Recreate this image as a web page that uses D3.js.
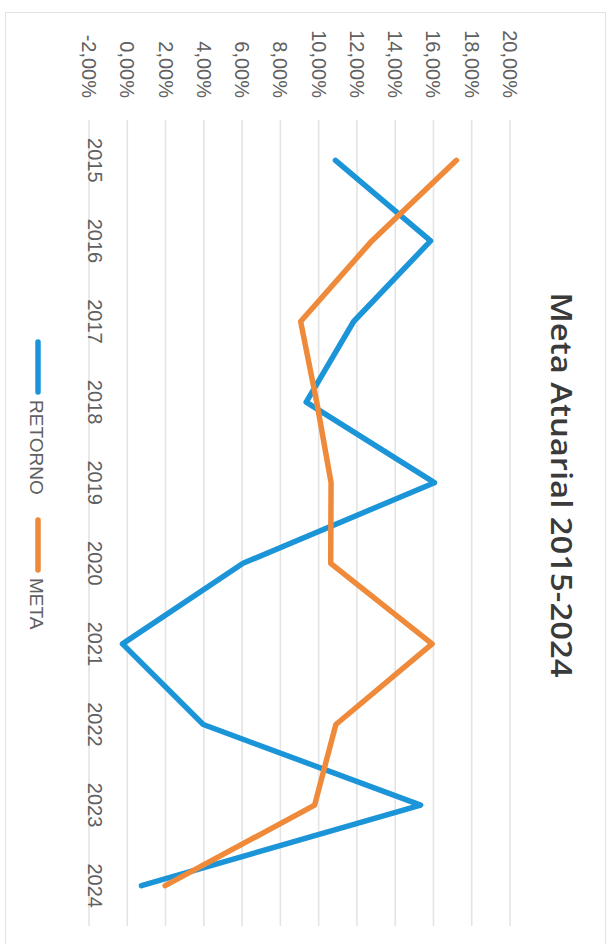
<!DOCTYPE html>
<html>
<head>
<meta charset="utf-8">
<script src="https://cdn.jsdelivr.net/npm/d3@7"></script>
<style>
  html, body { margin: 0; padding: 0; background: #fff; }
  svg { display: block; }
</style>
</head>
<body>
<script>
// ---- data ----
const years = ["2015","2016","2017","2018","2019","2020","2021","2022","2023","2024"];
const retorno = [10.88, 15.85, 11.83, 9.35, 16.05, 6.05, -0.25, 3.97, 15.33, 0.74];
const meta    = [17.2, 12.78, 9.06, 9.9, 10.65, 10.63, 15.93, 10.9, 9.79, 1.98];
const valueTicks = [-2, 0, 2, 4, 6, 8, 10, 12, 14, 16, 18, 20];
const seriesNames = ["RETORNO", "META"];
const seriesColors = ["#1b95d8", "#ef8a3a"];
const title = "Meta Atuarial 2015-2024";

const W = 613, H = 944;
const svg = d3.select("body").append("svg").attr("width", W).attr("height", H);
svg.append("rect").attr("width", W).attr("height", H).attr("fill", "#fff");
// outer frame
svg.append("rect").attr("x", 5.5).attr("y", 12.5).attr("width", 600).attr("height", 940)
  .attr("fill", "none").attr("stroke", "#e2e2e2").attr("stroke-width", 1);

// chart drawn in unrotated frame (width = H, height = W), then rotated 90° clockwise
const g = svg.append("g").attr("transform", `translate(${W},0) rotate(90)`);

const x = d3.scalePoint().domain(years).range([120, 926]).padding(0.5);
const y = d3.scaleLinear().domain([-2, 20]).range([524, 103]);

const font = "'Liberation Sans', Arial, sans-serif";
const fmt = v => (v < 0 ? "-" : "") + Math.abs(v).toFixed(2).replace(".", ",") + "%";

// gridlines
g.append("g").selectAll("line").data(valueTicks).join("line")
  .attr("x1", 120).attr("x2", 926)
  .attr("y1", d => y(d)).attr("y2", d => y(d))
  .attr("stroke", "#e4e4e4").attr("stroke-width", 1.6);

// value axis labels
g.append("g").selectAll("text").data(valueTicks).join("text")
  .attr("x", 98).attr("y", d => y(d))
  .attr("text-anchor", "end").attr("dominant-baseline", "central")
  .attr("font-family", font).attr("font-size", 20).attr("fill", "#606060")
  .text(fmt);

// category labels
g.append("g").selectAll("text").data(years).join("text")
  .attr("x", d => x(d)).attr("y", 525)
  .attr("text-anchor", "middle")
  .attr("font-family", font).attr("font-size", 20).attr("fill", "#606060")
  .text(d => d);

// lines
const line = d3.line().x((d, i) => x(years[i])).y(d => y(d));
[retorno, meta].forEach((s, i) => {
  g.append("path").datum(s)
    .attr("d", line).attr("fill", "none")
    .attr("stroke", seriesColors[i]).attr("stroke-width", 5.5)
    .attr("stroke-linejoin", "round").attr("stroke-linecap", "round");
});

// title
g.append("text").attr("x", 485).attr("y", 62)
  .attr("text-anchor", "middle")
  .attr("font-family", "'Open Sans', 'Noto Sans', sans-serif").attr("font-weight", 600)
  .attr("font-size", 29).attr("fill", "#3a3a3a")
  .attr("textLength", 385).attr("lengthAdjust", "spacingAndGlyphs")
  .text(title);

// legend
const legendStarts = [342, 520];
const lg = g.append("g");
seriesNames.forEach((name, i) => {
  lg.append("line")
    .attr("x1", legendStarts[i]).attr("x2", legendStarts[i] + 50)
    .attr("y1", 575).attr("y2", 575)
    .attr("stroke", seriesColors[i]).attr("stroke-width", 5.5).attr("stroke-linecap", "round");
  lg.append("text")
    .attr("x", legendStarts[i] + 58).attr("y", 576.5)
    .attr("dominant-baseline", "central")
    .attr("font-family", font).attr("font-size", 19).attr("fill", "#606060")
    .text(name);
});
</script>
</body>
</html>
